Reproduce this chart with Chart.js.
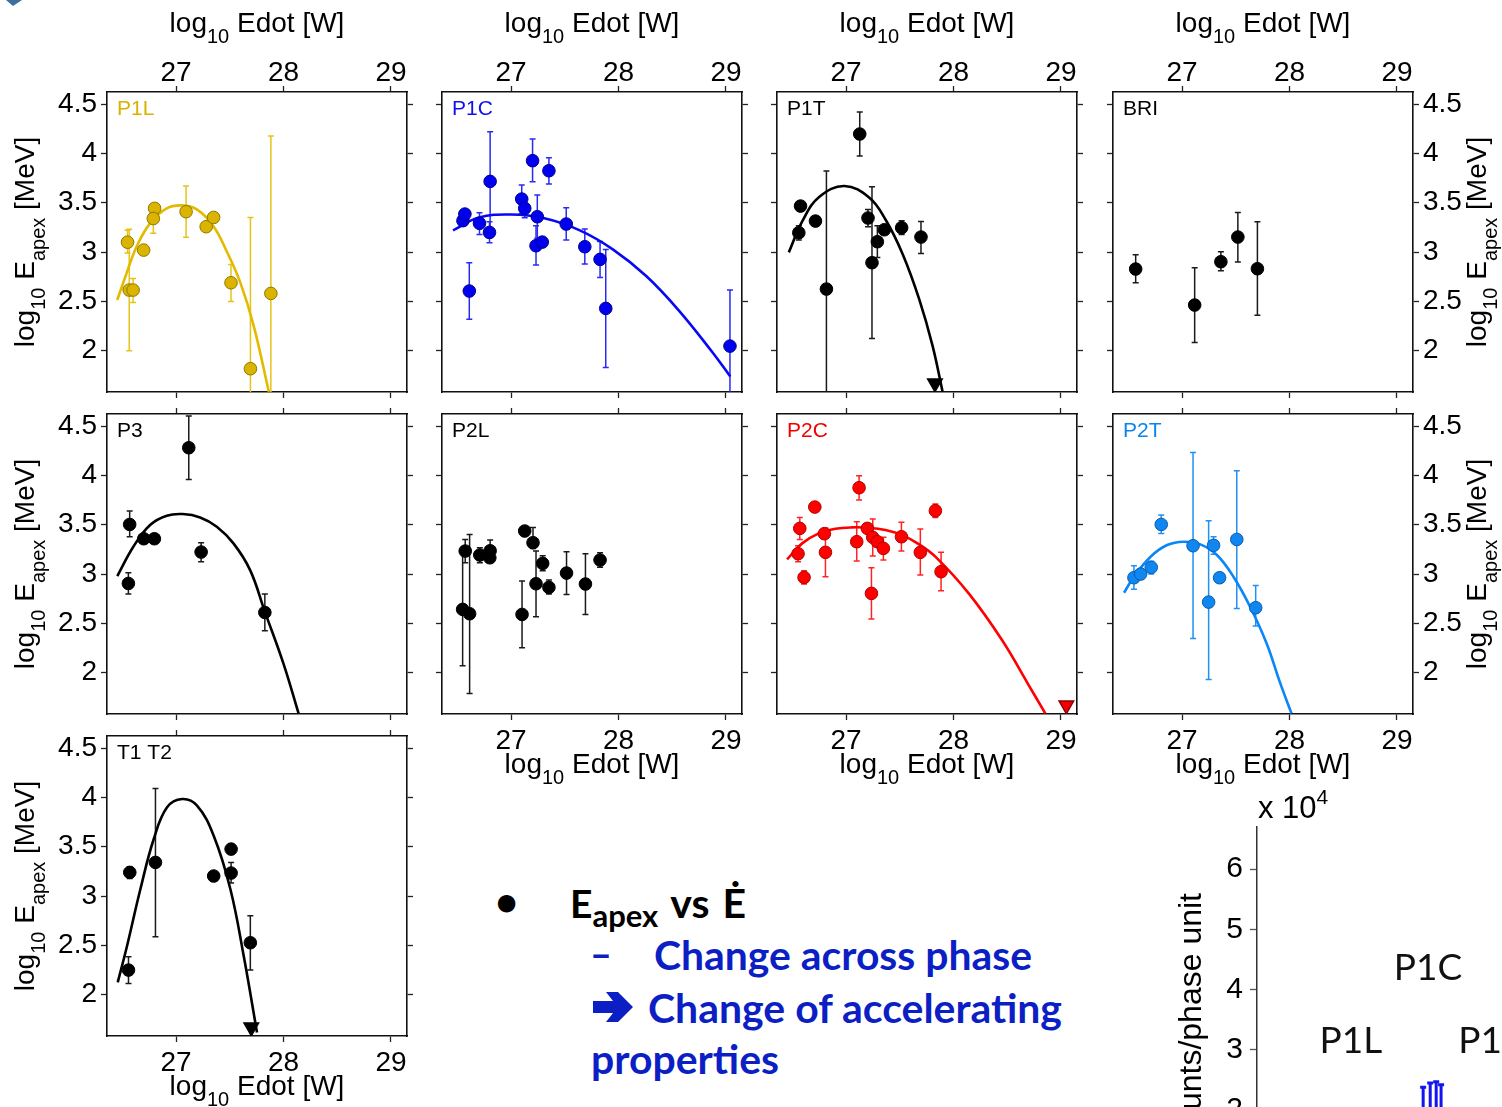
<!DOCTYPE html>
<html>
<head>
<meta charset="utf-8">
<title>Eapex vs Edot</title>
<script src="https://cdn.jsdelivr.net/npm/chart.js@4.4.1/dist/chart.umd.min.js"></script>
<style>
  html, body { margin: 0; padding: 0; background: #fff; }
  body { width: 1502px; height: 1107px; overflow: hidden; position: relative; }
  #notes { position: absolute; left: 0; top: 0; }
</style>
</head>
<body>
<svg id="notes" width="1502" height="1107" font-family="Lato, 'Open Sans', sans-serif" font-weight="700">
  <path d="M6 0 L22 0 L13 6 Z" fill="#3d6e9e"/>
  <text x="495" y="916" font-size="40" fill="#000">•</text>
  <text x="570" y="918" font-size="39" fill="#000">E<tspan font-size="31" dy="9">apex</tspan><tspan font-size="41" dy="-9" word-spacing="3"> vs Ė</tspan></text>
  <text x="590" y="968" font-size="40" fill="#0c1fc4" textLength="22" lengthAdjust="spacingAndGlyphs">–</text>
  <text x="654" y="970" font-size="40" fill="#0c1fc4" textLength="378" lengthAdjust="spacingAndGlyphs">Change across phase</text>
  <path d="M593 1001 L613 1001 L606 992 L618 992 L633 1007 L618 1022 L606 1022 L613 1013 L593 1013 Z" fill="#0c1fc4"/>
  <text x="648" y="1023" font-size="40" fill="#0c1fc4" textLength="414" lengthAdjust="spacingAndGlyphs">Change of accelerating</text>
  <text x="591" y="1074" font-size="40" fill="#0c1fc4" textLength="188" lengthAdjust="spacingAndGlyphs">properties</text>
</svg>
<script>
const FONT = '"Liberation Sans", Arial, Helvetica, sans-serif';
const LABEL_FONT = 'Lato, "Open Sans", sans-serif';

// axes shared by all panels
const X_RANGE = [26.357, 29.149];
const Y_RANGE = [1.582, 4.622];
const X_TICKS = [27, 28, 29];
const Y_TICKS = [2, 2.5, 3, 3.5, 4, 4.5];

// [log10 Edot, log10 Eapex, lower, upper]  (null = no error bar drawn)
const P1L_POINTS = [
  [26.548, 3.10, 2.99, 3.22],
  [26.564, 2.615, 2.00, 3.23],
  [26.600, 2.615, 2.49, 2.733],
  [26.698, 3.02, null, null],
  [26.800, 3.443, null, null],
  [26.788, 3.34, 3.19, 3.49],
  [27.093, 3.409, 3.149, 3.669],
  [27.280, 3.257, null, null],
  [27.349, 3.351, null, null],
  [27.511, 2.689, 2.50, 2.875],
  [27.692, 1.818, 0.285, 3.351],
  [27.882, 2.581, 0.986, 4.176],
];
const P1C_POINTS = [
  [26.552, 3.318, null, null],
  [26.570, 3.385, null, null],
  [26.706, 3.291, 3.179, 3.399],
  [26.611, 2.605, 2.318, 2.892],
  [26.805, 3.716, 3.21, 4.22],
  [26.799, 3.199, 3.095, 3.307],
  [27.099, 3.537, 3.39, 3.68],
  [27.127, 3.443, 3.348, 3.54],
  [27.200, 3.926, 3.713, 4.145],
  [27.244, 3.358, 3.14, 3.578],
  [27.232, 3.064, 2.868, 3.267],
  [27.290, 3.101, null, null],
  [27.352, 3.824, 3.689, 3.956],
  [27.513, 3.284, 3.122, 3.449],
  [27.686, 3.054, 2.878, 3.233],
  [27.828, 2.926, 2.743, 3.108],
  [27.881, 2.429, 1.831, 3.027],
  [29.037, 2.047, 1.48, 2.615],
];
const P1T_POINTS = [
  [26.560, 3.196, 3.122, 3.267],
  [26.576, 3.466, null, null],
  [26.715, 3.314, null, null],
  [26.817, 2.625, 1.43, 3.821],
  [27.127, 4.196, 3.973, 4.419],
  [27.204, 3.345, 3.257, 3.432],
  [27.241, 2.892, 2.125, 3.662],
  [27.291, 3.105, 2.946, 3.267],
  [27.356, 3.226, null, null],
  [27.517, 3.247, 3.179, 3.318],
  [27.697, 3.152, 2.986, 3.311],
];
const BRI_POINTS = [
  [26.568, 2.828, 2.689, 2.973],
  [27.117, 2.463, 2.084, 2.841],
  [27.361, 2.902, 2.811, 3.003],
  [27.519, 3.152, 2.899, 3.402],
  [27.701, 2.831, 2.361, 3.307],
];
const P3_POINTS = [
  [26.568, 3.503, 3.378, 3.639],
  [26.556, 2.905, 2.797, 3.014],
  [26.699, 3.358, null, null],
  [26.798, 3.358, null, null],
  [27.118, 4.28, 3.959, 4.601],
  [27.233, 3.223, 3.125, 3.318],
  [27.826, 2.611, 2.426, 2.797],
];
const P2L_POINTS = [
  [26.573, 3.233, 3.115, 3.351],
  [26.549, 2.642, 2.071, 3.21],
  [26.614, 2.598, 1.791, 3.402],
  [26.709, 3.193, 3.115, 3.267],
  [26.805, 3.236, 3.13, 3.345],
  [26.802, 3.165, null, null],
  [27.127, 3.436, null, null],
  [27.204, 3.318, 3.26, 3.473],
  [27.102, 2.591, 2.253, 2.929],
  [27.232, 2.902, 2.568, 3.233],
  [27.294, 3.108, 3.034, 3.186],
  [27.352, 2.865, 2.797, 2.939],
  [27.516, 3.010, 2.794, 3.226],
  [27.692, 2.899, 2.591, 3.206],
  [27.828, 3.142, 3.068, 3.216],
];
const P2C_POINTS = [
  [26.553, 3.206, 3.125, 3.287],
  [26.569, 3.463, 3.351, 3.574],
  [26.609, 2.966, 2.899, 3.034],
  [26.709, 3.679, null, null],
  [26.798, 3.409, null, null],
  [26.808, 3.22, 2.973, 3.467],
  [27.099, 3.328, 3.132, 3.53],
  [27.121, 3.875, 3.75, 3.997],
  [27.198, 3.463, null, null],
  [27.248, 3.372, 3.182, 3.557],
  [27.291, 3.328, null, null],
  [27.347, 3.26, 3.142, 3.372],
  [27.236, 2.804, 2.544, 3.064],
  [27.515, 3.378, 3.233, 3.524],
  [27.691, 3.22, 2.99, 3.456],
  [27.831, 3.642, 3.574, 3.709],
  [27.884, 3.024, 2.831, 3.22],
];
const P2T_POINTS = [
  [26.552, 2.963, 2.845, 3.084],
  [26.614, 3.0, 2.95, 3.05],
  [26.713, 3.068, 3.0, 3.13],
  [26.806, 3.503, 3.412, 3.598],
  [27.102, 3.287, 2.348, 4.233],
  [27.247, 2.716, 1.932, 3.541],
  [27.293, 3.291, 3.2, 3.378],
  [27.349, 2.963, null, null],
  [27.509, 3.351, 2.652, 4.047],
  [27.685, 2.659, 2.473, 2.885],
];
const T1T2_POINTS = [
  [26.569, 3.24, 3.179, 3.297],
  [26.557, 2.25, 2.115, 2.385],
  [26.808, 3.341, 2.588, 4.091],
  [27.350, 3.203, null, null],
  [27.512, 3.476, 3.425, 3.527],
  [27.512, 3.233, 3.132, 3.341],
  [27.691, 2.527, 2.25, 2.801],
];

// upper limits (down triangles) [log10 Edot, log10 Eapex]
const P1T_LIMITS = [[27.827, 1.67]];
const P2C_LIMITS = [[29.05, 1.67]];
const T1T2_LIMITS = [[27.70, 1.67]];

// fitted curves
const P1L_CURVE = [[26.452, 2.514], [26.539, 2.784], [26.632, 3.054], [26.757, 3.291], [26.913, 3.443], [27.053, 3.473],
  [27.193, 3.432], [27.349, 3.26], [27.474, 3.0], [27.598, 2.69], [27.723, 2.25], [27.863, 1.585]];
const P1C_CURVE = [[26.46, 3.22], [26.70, 3.35], [27.00, 3.38], [27.30, 3.345], [27.64, 3.22], [27.95, 3.025],
  [28.26, 2.755], [28.56, 2.41], [28.87, 1.99], [29.04, 1.74]];
const P1T_CURVE = [[26.467, 2.997], [26.598, 3.324], [26.752, 3.561], [26.985, 3.669], [27.217, 3.55], [27.372, 3.32],
  [27.526, 2.98], [27.681, 2.52], [27.805, 2.05], [27.898, 1.585]];
const P3_CURVE = [[26.453, 2.98], [26.602, 3.277], [26.758, 3.497], [26.913, 3.591], [27.062, 3.608], [27.224, 3.574],
  [27.379, 3.48], [27.534, 3.311], [27.689, 3.04], [27.826, 2.62], [28.0, 2.09], [28.14, 1.588]];
const P2C_CURVE = [[26.451, 3.149], [26.591, 3.311], [26.746, 3.412], [26.901, 3.459], [27.056, 3.473], [27.211, 3.469],
  [27.366, 3.446], [27.521, 3.395], [27.676, 3.304], [27.831, 3.176], [28.141, 2.804], [28.451, 2.331], [28.699, 1.875], [28.854, 1.588]];
const P2T_CURVE = [[26.46, 2.811], [26.552, 2.973], [26.707, 3.176], [26.861, 3.294], [27.015, 3.328], [27.17, 3.301],
  [27.324, 3.193], [27.478, 2.973], [27.633, 2.669], [27.787, 2.297], [27.91, 1.905], [28.018, 1.588]];
const T1T2_CURVE = [[26.457, 2.125], [26.544, 2.497], [26.668, 3.071], [26.792, 3.578], [26.916, 3.899], [27.056, 3.983],
  [27.195, 3.916], [27.35, 3.611], [27.505, 3.071], [27.629, 2.395], [27.753, 1.618]];

// light curve fragment (bottom right), counts in units of 1e4
const LC_Y_RANGE = [-0.153, 6.697];
const LC_Y_TICKS = [1, 2, 3, 4, 5, 6];
const LC_PHASE = [0.306, 0.319, 0.330, 0.339];
const LC_COUNTS = [2.2, 2.28, 2.3, 2.24];
const LC_LOW = [1.95, 2.0, 2.02, 1.98];
const LC_HIGH = [2.38, 2.45, 2.47, 2.42];
const LC_LABELS = ['P1L', 'P1C', 'P1T'];
const LC_LABEL_PHASE = [0.173, 0.315, 0.431];
const LC_LABEL_Y = [3.15, 4.36, 3.15];

const STYLES = {
  gold:      { fill: '#dab400', edge: '#8f7800', line: '#e2bb00', bar: '#e6c31c', text: '#d9b200' },
  blue:      { fill: '#0000ee', edge: '#00008c', line: '#0808f5', bar: '#2a2af5', text: '#1010ee' },
  black:     { fill: '#000000', edge: '#000000', line: '#000000', bar: '#1a1a1a', text: '#000000' },
  red:       { fill: '#ff0000', edge: '#b40000', line: '#ff0000', bar: '#ff2424', text: '#f00000' },
  lightblue: { fill: '#1086f0', edge: '#0a5cae', line: '#0a86f8', bar: '#2090f5', text: '#0a84f0' },
};

const COL_LEFT = [107, 442, 777, 1113];
const ROW_TOP = [92, 414, 736];
const BOX = 300;
const M = { left: 110, right: 100, top: 100, bottom: 100 };

const PANELS = [
  { name: 'P1L', col: 0, row: 0, style: 'gold', points: P1L_POINTS, curve: P1L_CURVE, limits: [], axes: ['top', 'left'] },
  { name: 'P1C', col: 1, row: 0, style: 'blue', points: P1C_POINTS, curve: P1C_CURVE, limits: [], axes: ['top'] },
  { name: 'P1T', col: 2, row: 0, style: 'black', points: P1T_POINTS, curve: P1T_CURVE, limits: P1T_LIMITS, axes: ['top'] },
  { name: 'BRI', col: 3, row: 0, style: 'black', points: BRI_POINTS, curve: [], limits: [], axes: ['top', 'right'] },
  { name: 'P3', col: 0, row: 1, style: 'black', points: P3_POINTS, curve: P3_CURVE, limits: [], axes: ['left'] },
  { name: 'P2L', col: 1, row: 1, style: 'black', points: P2L_POINTS, curve: [], limits: [], axes: ['bottom'] },
  { name: 'P2C', col: 2, row: 1, style: 'red', points: P2C_POINTS, curve: P2C_CURVE, limits: P2C_LIMITS, axes: ['bottom'] },
  { name: 'P2T', col: 3, row: 1, style: 'lightblue', points: P2T_POINTS, curve: P2T_CURVE, limits: [], axes: ['bottom', 'right'] },
  { name: 'T1 T2', col: 0, row: 2, style: 'black', points: T1T2_POINTS, curve: T1T2_CURVE, limits: T1T2_LIMITS, axes: ['left', 'bottom'] },
];

// title pieces: [text, size, baseline shift]
const X_TITLE = [['log', 28, 0], ['10', 20, 11], [' Edot [W]', 28, 0]];
const Y_TITLE = [['log', 28, 0], ['10', 20, 11], [' E', 28, 0], ['apex', 20, 11], [' [MeV]', 28, 0]];

function drawRich(ctx, parts, x, y) {
  let total = 0;
  parts.forEach(([t, s]) => { ctx.font = `${s}px ${FONT}`; total += ctx.measureText(t).width; });
  let cx = x - total / 2;
  ctx.textAlign = 'left';
  ctx.textBaseline = 'alphabetic';
  parts.forEach(([t, s, dy]) => {
    ctx.font = `${s}px ${FONT}`;
    ctx.fillText(t, cx, y + dy);
    cx += ctx.measureText(t).width;
  });
}

// vertical error bars with small caps, clipped to the plot box
const errorBars = {
  id: 'errorBars',
  beforeDatasetsDraw(chart) {
    const { ctx, chartArea: a, scales } = chart;
    ctx.save();
    ctx.beginPath();
    ctx.rect(a.left, a.top, a.width, a.height);
    ctx.clip();
    chart.data.datasets.forEach((ds) => {
      if (!ds.errors) return;
      ctx.strokeStyle = ds.errorColor;
      ctx.lineWidth = ds.errorWidth || 1.5;
      ds.errors.forEach(([vx, , lo, hi]) => {
        if (lo === null) return;
        const px = scales.x.getPixelForValue(vx);
        const p1 = scales.y.getPixelForValue(lo);
        const p2 = scales.y.getPixelForValue(hi);
        ctx.beginPath();
        ctx.moveTo(px, p1); ctx.lineTo(px, p2);
        ctx.moveTo(px - 3, p1); ctx.lineTo(px + 3, p1);
        ctx.moveTo(px - 3, p2); ctx.lineTo(px + 3, p2);
        ctx.stroke();
      });
    });
    ctx.restore();
  },
};
Chart.register(errorBars);

function addCanvas(left, top, w, h) {
  const c = document.createElement('canvas');
  c.width = w;
  c.height = h;
  Object.assign(c.style, { position: 'absolute', left: `${left}px`, top: `${top}px`, width: `${w}px`, height: `${h}px` });
  document.body.appendChild(c);
  return c;
}

function buildAxis(pos, range, tickValues, showLabels, size) {
  const horizontal = pos === 'top' || pos === 'bottom';
  let pad = 4;
  if (pos === 'bottom') pad = 7;
  if (pos === 'top') pad = -1;
  return {
    type: 'linear',
    position: pos,
    min: range[0],
    max: range[1],
    afterBuildTicks(scale) { scale.ticks = tickValues.map((v) => ({ value: v })); },
    afterFit(scale) { if (horizontal) scale.height = size; else scale.width = size; },
    grid: { drawOnChartArea: false, drawTicks: true, tickLength: 6, tickWidth: 1.3, tickColor: '#222' },
    border: { display: true, color: '#111', width: 1.6 },
    ticks: {
      display: showLabels,
      autoSkip: false,
      maxRotation: 0,
      padding: pad,
      color: '#000',
      font: { family: FONT, size: 28, lineHeight: 1 },
      callback: (v) => String(v),
    },
  };
}

function panelText(p) {
  return {
    id: 'panelText',
    afterDraw(chart) {
      const { ctx, chartArea: a } = chart;
      ctx.save();
      ctx.fillStyle = STYLES[p.style].text;
      ctx.font = `21px ${FONT}`;
      ctx.textAlign = 'left';
      ctx.textBaseline = 'alphabetic';
      ctx.fillText(p.name, a.left + 10, a.top + 23);
      ctx.fillStyle = '#000';
      const cx = (a.left + a.right) / 2;
      const cy = (a.top + a.bottom) / 2;
      if (p.axes.includes('top')) drawRich(ctx, X_TITLE, cx, a.top - 60);
      if (p.axes.includes('bottom')) drawRich(ctx, X_TITLE, cx, a.bottom + 59);
      if (p.axes.includes('left')) {
        ctx.save();
        ctx.translate(a.left - 73, cy);
        ctx.rotate(-Math.PI / 2);
        drawRich(ctx, Y_TITLE, 0, 0);
        ctx.restore();
      }
      if (p.axes.includes('right')) {
        ctx.save();
        ctx.translate(a.right + 73, cy);
        ctx.rotate(-Math.PI / 2);
        drawRich(ctx, Y_TITLE, 0, 0);
        ctx.restore();
      }
      ctx.restore();
    },
  };
}

function makePanel(p) {
  const st = STYLES[p.style];
  const left = COL_LEFT[p.col];
  const top = ROW_TOP[p.row];
  const canvas = addCanvas(left - M.left, top - M.top, BOX + M.left + M.right, BOX + M.top + M.bottom);

  const datasets = [
    {
      data: p.points.map(([x, y]) => ({ x, y })),
      errors: p.points,
      errorColor: st.bar,
      pointRadius: 6.3,
      pointBackgroundColor: st.fill,
      pointBorderColor: st.edge,
      pointBorderWidth: 1,
      order: 1,
    },
  ];
  if (p.curve.length) {
    datasets.push({
      data: p.curve.map(([x, y]) => ({ x, y })),
      showLine: true,
      pointRadius: 0,
      borderColor: st.line,
      borderWidth: 2.6,
      tension: 0.4,
      fill: false,
      order: 2,
    });
  }
  if (p.limits.length) {
    datasets.push({
      data: p.limits.map(([x, y]) => ({ x, y })),
      pointStyle: 'triangle',
      rotation: 180,
      pointRadius: 8.5,
      pointBackgroundColor: p.style === 'red' ? '#f00000' : '#000',
      pointBorderColor: p.style === 'red' ? '#8a0000' : '#000',
      pointBorderWidth: 1.4,
      order: 0,
    });
  }

  new Chart(canvas, {
    type: 'scatter',
    data: { datasets },
    options: {
      responsive: false,
      animation: false,
      events: [],
      layout: { padding: 0 },
      plugins: { legend: { display: false }, tooltip: { enabled: false } },
      scales: {
        x: buildAxis('bottom', X_RANGE, X_TICKS, p.axes.includes('bottom'), M.bottom),
        x2: buildAxis('top', X_RANGE, X_TICKS, p.axes.includes('top'), M.top),
        y: buildAxis('left', Y_RANGE, Y_TICKS, p.axes.includes('left'), M.left),
        y2: buildAxis('right', Y_RANGE, Y_TICKS, p.axes.includes('right'), M.right),
      },
    },
    plugins: [panelText(p)],
  });
}

PANELS.forEach(makePanel);

// partial light-curve panel at the bottom right
const lcText = {
  id: 'lcText',
  afterDraw(chart) {
    const { ctx, chartArea: a, scales } = chart;
    ctx.save();
    ctx.fillStyle = '#000';
    ctx.textBaseline = 'alphabetic';
    ctx.textAlign = 'left';
    ctx.font = `31px ${FONT}`;
    ctx.fillText('x 10', a.left + 1, a.top - 9);
    const w = ctx.measureText('x 10').width;
    ctx.font = `21px ${FONT}`;
    ctx.fillText('4', a.left + 1 + w, a.top - 23);

    ctx.save();
    ctx.translate(a.left - 56, a.top + 66);
    ctx.rotate(-Math.PI / 2);
    ctx.textAlign = 'right';
    ctx.font = `32px ${FONT}`;
    ctx.fillText('counts/phase unit', 0, 0);
    ctx.restore();

    ctx.font = `37px ${LABEL_FONT}`;
    ctx.textAlign = 'center';
    ctx.textBaseline = 'middle';
    ctx.fillStyle = '#111';
    LC_LABELS.forEach((t, i) => {
      ctx.fillText(t, scales.x.getPixelForValue(LC_LABEL_PHASE[i]), scales.y.getPixelForValue(LC_LABEL_Y[i]));
    });
    ctx.restore();
  },
};

function makeLightCurve() {
  const canvas = addCanvas(1100, 780, 700, 490);
  new Chart(canvas, {
    type: 'scatter',
    data: {
      datasets: [{
        data: LC_PHASE.map((x, i) => ({ x, y: LC_COUNTS[i] })),
        errors: LC_PHASE.map((x, i) => [x, LC_COUNTS[i], LC_LOW[i], LC_HIGH[i]]),
        errorColor: '#1414f0',
        errorWidth: 3,
        pointRadius: 0,
      }],
    },
    options: {
      responsive: false,
      animation: false,
      events: [],
      layout: { padding: { top: 47 } },
      plugins: { legend: { display: false }, tooltip: { enabled: false } },
      scales: {
        x: {
          type: 'linear',
          min: 0,
          max: 1,
          afterFit(scale) { scale.height = 30; },
          grid: { display: false },
          border: { display: false },
          ticks: { display: false },
        },
        y: {
          type: 'linear',
          position: 'left',
          min: LC_Y_RANGE[0],
          max: LC_Y_RANGE[1],
          afterBuildTicks(scale) { scale.ticks = LC_Y_TICKS.map((v) => ({ value: v })); },
          afterFit(scale) { scale.width = 157; },
          grid: { drawOnChartArea: false, tickLength: 7, tickWidth: 1.3, tickColor: '#555' },
          border: { display: true, color: '#333', width: 1.5 },
          ticks: { padding: 7, color: '#000', font: { family: FONT, size: 30, lineHeight: 1 }, callback: (v) => String(v) },
        },
      },
    },
    plugins: [lcText],
  });
}

makeLightCurve();
</script>
</body>
</html>
